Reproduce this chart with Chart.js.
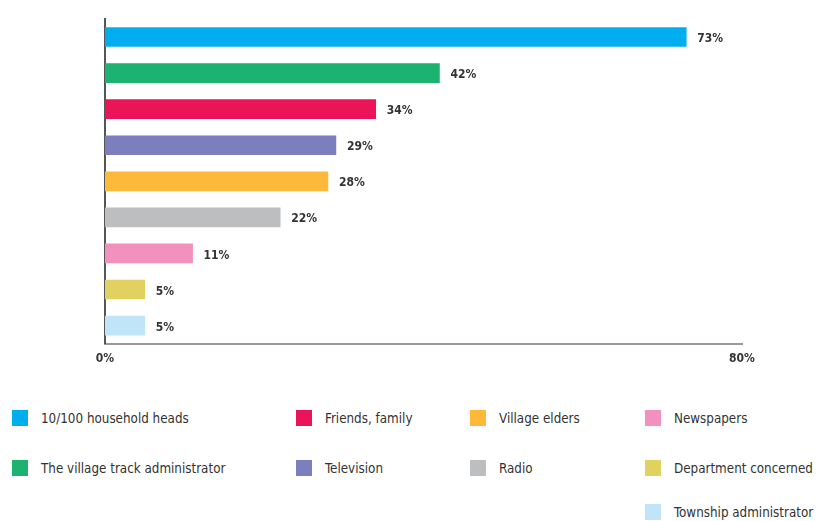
<!DOCTYPE html>
<html>
<head>
<meta charset="utf-8">
<script src="https://cdn.jsdelivr.net/npm/chart.js@4/dist/chart.umd.min.js"></script>
<style>
    html, body { margin: 0; padding: 0; background: #fff; }
    #wrap { position: relative; width: 818px; height: 521px; }
    #chart { position: absolute; left: 0; top: 0; }
    .leg { position: absolute; font-family: 'DejaVu Sans Condensed', 'Liberation Sans Narrow', sans-serif; font-size: 14px; color: #333; white-space: nowrap; line-height: 16px; }
    .leg span { position: absolute; left: 0; top: 0; width: 16px; height: 16px; }
    .leg b { font-weight: normal; position: absolute; left: 29px; top: 0; transform: scaleX(0.95); transform-origin: left center; }
</style>
</head>
<body>
<div id="wrap">
    <canvas id="chart" width="818" height="390"></canvas>
    <div id="legend"></div>
</div>
<script>
    // Categorias y valores (%)
    const categories = [
        '10/100 household heads',
        'The village track administrator',
        'Friends, family',
        'Television',
        'Village elders',
        'Radio',
        'Newspapers',
        'Department concerned',
        'Township administrator'
    ];
    const values = [73, 42, 34, 29, 28, 22, 11, 5, 5];
    const barColors = ['#00AEEF', '#1BB36F', '#EC1458', '#7B7FBE', '#FDB93A', '#BDBEC0', '#F391BE', '#E1D160', '#C0E5F9'];
    const xTicks = [0, 80];

    // Posicion de la leyenda (columna, fila) para cada categoria
    const legendCols = [0, 0, 1, 1, 2, 2, 3, 3, 3];
    const legendRows = [0, 1, 0, 1, 0, 1, 0, 1, 2];

    const fontFamily = "'DejaVu Sans Condensed', 'Liberation Sans Narrow', sans-serif";

    // Plugin para las etiquetas de valor al final de las barras
    const valueLabels = {
        id: 'valueLabels',
        afterDatasetsDraw: function(chart) {
            const ctx = chart.ctx;
            const meta = chart.getDatasetMeta(0);
            ctx.save();
            ctx.font = 'bold 12px ' + fontFamily;
            ctx.fillStyle = '#333';
            ctx.textBaseline = 'middle';
            meta.data.forEach(function(bar, i) {
                ctx.fillText(values[i] + '%', bar.x + 11, bar.y + 2);
            });
            ctx.restore();
        }
    };

    new Chart(document.getElementById('chart'), {
        type: 'bar',
        data: {
            labels: categories,
            datasets: [{
                data: values,
                backgroundColor: barColors,
                borderWidth: 0,
                barThickness: 19
            }]
        },
        options: {
            indexAxis: 'y',
            responsive: false,
            animation: false,
            layout: { padding: { left: 97, right: 76, top: 19, bottom: 24 } },
            plugins: { legend: { display: false }, tooltip: { enabled: false } },
            scales: {
                x: {
                    min: xTicks[0],
                    max: xTicks[1],
                    afterBuildTicks: function(axis) {
                        axis.ticks = xTicks.map(function(v) { return { value: v }; });
                    },
                    grid: { display: false },
                    border: { color: '#999', width: 2 },
                    ticks: {
                        color: '#333',
                        padding: 0,
                        font: { family: fontFamily, size: 12, weight: 'bold' },
                        callback: function(v) { return v + '%'; },
                        maxRotation: 0
                    }
                },
                y: {
                    grid: { display: false },
                    border: { color: '#555', width: 2 },
                    ticks: { display: false }
                }
            }
        },
        plugins: [valueLabels]
    });

    // Leyenda en HTML
    const colX = [12, 296, 470, 645];
    const rowY = [410, 460, 504];
    const legend = document.getElementById('legend');
    categories.forEach(function(name, i) {
        const item = document.createElement('div');
        item.className = 'leg';
        item.style.left = colX[legendCols[i]] + 'px';
        item.style.top = rowY[legendRows[i]] + 'px';
        item.innerHTML = '<span style="background:' + barColors[i] + '"></span><b>' + name + '</b>';
        legend.appendChild(item);
    });
</script>
</body>
</html>
